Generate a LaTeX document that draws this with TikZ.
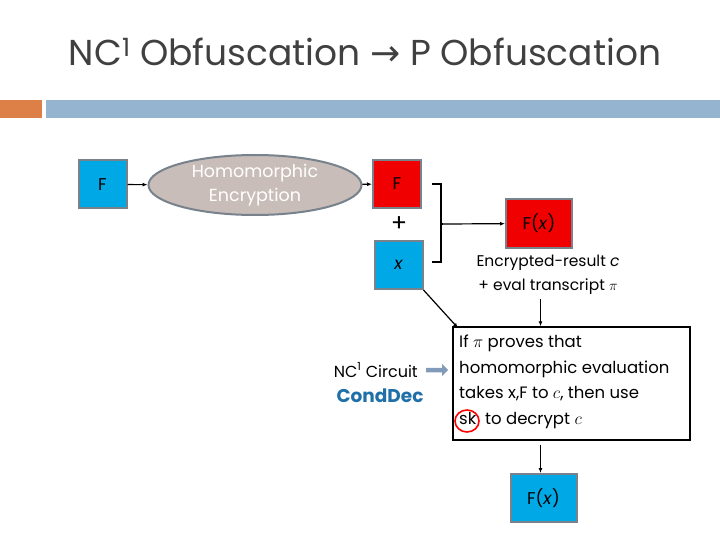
\documentclass[tikz,border=0pt]{standalone}
\usepackage{fontspec}
\setmainfont{Poppins}
\newfontfamily\djv{DejaVu Sans}
\usetikzlibrary{arrows.meta,shapes.geometric,shapes.arrows}
\definecolor{cyanbox}{RGB}{0,168,230}
\definecolor{redbox}{RGB}{240,0,0}
\definecolor{edgegray}{RGB}{120,130,140}
\definecolor{barblue}{RGB}{148,180,207}
\definecolor{barorange}{RGB}{221,128,71}
\definecolor{ellfill}{RGB}{200,189,184}
\definecolor{titlegray}{RGB}{64,64,64}
\definecolor{conddec}{RGB}{31,111,168}
\definecolor{fatarrow}{RGB}{130,155,185}
\tikzset{
  x=1pt,y=-1pt,
  sq/.style={draw=edgegray,line width=2pt,minimum width=48pt,minimum height=48pt,inner sep=0pt,font=\fontsize{17}{20}\selectfont},
  wide/.style={sq,minimum width=66pt},
  arr/.style={-{Latex[length=5pt,width=4pt]},line width=1.2pt},
  txt/.style={font=\fontsize{15}{18}\selectfont,inner sep=0pt}
}
\begin{document}
\begin{tikzpicture}
\useasboundingbox (0,0) rectangle (720,540);
\fill[white] (0,0) rectangle (720,540);
\node[txt,text=titlegray,font=\fontsize{36}{40}\selectfont] (title) at (365,52) {NC\textsuperscript{1} Obfuscation {\djv→} P Obfuscation};
\fill[barorange] (0,100) rectangle (42,118);
\fill[barblue] (46,100) rectangle (720,118);
\node[sq,fill=cyanbox] (f1) at (102.5,184.5) {F};
\node[ellipse,draw=edgegray,line width=2pt,fill=ellfill,minimum width=213pt,minimum height=60pt,inner sep=0pt,text=white,align=center,font=\fontsize{17.5}{24}\selectfont] (he) at (255,185) {Homomorphic\\Encryption};
\node[sq,fill=redbox] (f2) at (397,184) {F};
\node[txt,font=\fontsize{24}{26}\selectfont] (plus) at (399,224) {+};
\node[sq,fill=cyanbox] (x) at (398.5,265) {\itshape x};
\draw[arr] (f1) -- (he);
\draw[arr] (he) -- (f2);
\coordinate (bt) at (432,184);
\coordinate (bb) at (432,262);
\coordinate (bm) at (441,224);
\draw[line width=1.4pt] (bt) -| (bm) |- (bb);
\node[wide,fill=redbox] (fx) at (539,223.5) {F(\textit{x})};
\draw[arr] (bm) ++(2,0) coordinate (bs) -- (fx);
\draw[line width=1.4pt] (bm) -- (bs);
\node[txt,align=center,font=\fontsize{15.5}{24}\selectfont] (enc) at (548,275) {Encrypted-result $\mathit{c}$\\+ eval transcript $\pi$};
\node[draw,line width=1.4pt,minimum width=237pt,minimum height=113pt,inner sep=0pt] (box) at (571.5,383.5) {};
\node[anchor=north west,align=left,inner sep=0pt,font=\fontsize{16.5}{25.5}\selectfont] (boxtxt) at (459,335) {If $\pi$ proves that\\homomorphic evaluation\\takes x,F to $c$, then use\\sk\ \ to decrypt $c$};
\draw[red,line width=1.6pt] (467,421) circle[x radius=12pt,y radius=11pt];
\draw[arr] (enc.south -| box.north) ++(-31,4) coordinate (e1) -- (e1 |- box.north);
\draw[arr] (x.south east) -- (458,328);
\node[wide,fill=cyanbox] (fx2) at (543.5,498) {F(\textit{x})};
\draw[arr] (fx2.north |- box.south) ++(-3,4) coordinate (e2) -- (e2 |- fx2.north);
\node[txt,anchor=east] (nc) at (418,370) {\fontsize{16}{18}\selectfont NC\textsuperscript{1} Circuit};
\node[single arrow,fill=fatarrow,minimum height=22pt,minimum width=12pt,single arrow head extend=2pt,inner sep=1pt] (fa) at (436,370) {};
\node[txt,text=conddec,font=\bfseries\fontsize{18.5}{20}\selectfont] (cd) at (380,396) {CondDec};
\end{tikzpicture}
\end{document}
